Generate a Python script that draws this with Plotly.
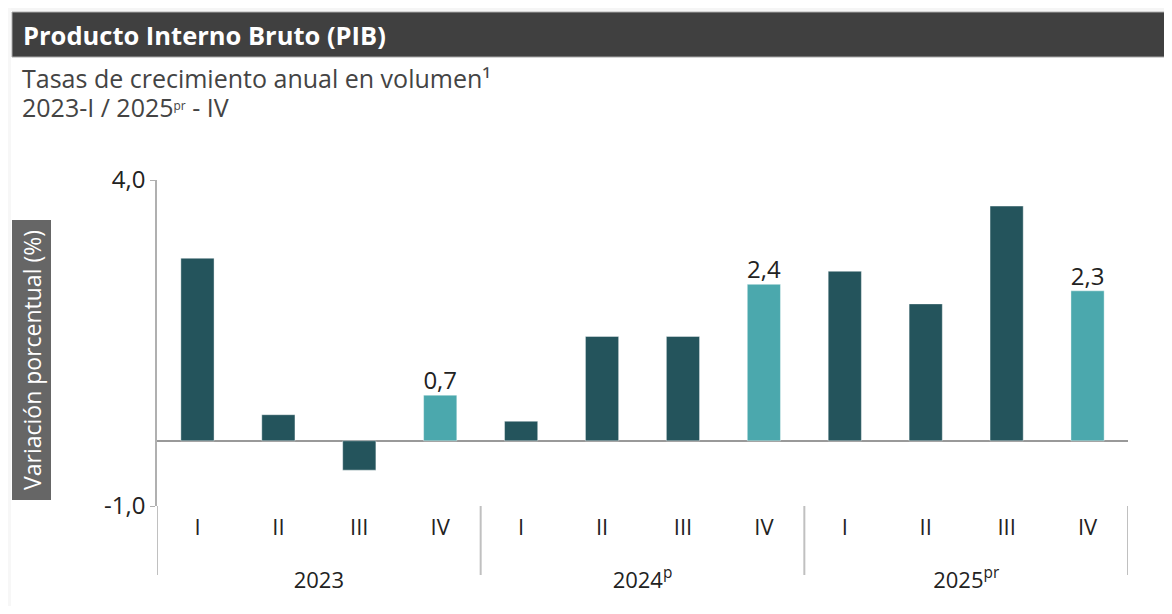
import plotly.graph_objects as go

years = ["2023", "2023", "2023", "2023",
         "2024<sup>p</sup>", "2024<sup>p</sup>", "2024<sup>p</sup>", "2024<sup>p</sup>",
         "2025<sup>pr</sup>", "2025<sup>pr</sup>", "2025<sup>pr</sup>", "2025<sup>pr</sup>"]
quarters = ["I", "II", "III", "IV"] * 3
values = [2.8, 0.4, -0.45, 0.7, 0.3, 1.6, 1.6, 2.4, 2.6, 2.1, 3.6, 2.3]
highlight = [False, False, False, True, False, False, False, True, False, False, False, True]
ytick_vals = [-1, 4]
ytick_text = ["-1,0", "4,0"]

title = "Producto Interno Bruto (PIB)"
subtitle1 = "Tasas de crecimiento anual en volumen¹"
subtitle2 = "2023-I / 2025<span style='font-size:17px'><sup>pr</sup></span> - IV"
ytitle = "Variación porcentual (%)"

DARK = "#24545c"
LIGHT = "#4ba8ad"
FONT = "Open Sans"

# page has an 8px body margin; figure coordinates = reference px - 8
OFF = 8
W, H = 1172 - 2 * OFF, 614 - 2 * OFF
ML, MT = 157 - OFF, 180 - OFF
PW, PH = 1128 - 157, 326
MR = W - ML - PW
MB = H - MT - PH


def px(x):
    return (x - OFF - ML) / PW


def py(y):
    return (MT + PH - (y - OFF)) / PH


# inner labels get a small empty second line so the year row sits lower
inner = [q + "<br><span style='font-size:13px'> </span>" for q in quarters]
n = len(values)

fig = go.Figure()
fig.add_trace(go.Bar(
    x=[years, inner],
    y=values,
    marker=dict(color=[LIGHT if h else DARK for h in highlight],
                line=dict(color="rgba(255,255,255,0.5)", width=0.8)),
    hoverinfo="skip",
))

hx_years = [y for y, h in zip(years, highlight) if h]
hx_q = [q for q, h in zip(inner, highlight) if h]
hx_v = [v for v, h in zip(values, highlight) if h]
fig.add_trace(go.Scatter(
    x=[hx_years, hx_q],
    y=hx_v,
    mode="text",
    text=[f"{v:.1f}".replace(".", ",") for v in hx_v],
    textposition="top center",
    textfont=dict(family=FONT, size=24, color="#222222"),
    cliponaxis=False,
    hoverinfo="skip",
))

# group boundaries (between different years), in category index units
bounds = [-0.5] + [i + 0.5 for i in range(n - 1) if years[i] != years[i + 1]] + [n - 0.5]

shapes = [
    dict(type="rect", xref="paper", yref="paper", x0=px(OFF), x1=px(1180), y0=py(OFF - 1), y1=py(11),
         fillcolor="#f5f5f5", line=dict(width=0), layer="below"),
    dict(type="rect", xref="paper", yref="paper", x0=px(OFF - 1), x1=px(11), y0=py(OFF), y1=py(620),
         fillcolor="#f7f7f7", line=dict(width=0), layer="below"),
    dict(type="rect", xref="paper", yref="paper", x0=px(12), x1=px(1180), y0=py(12), y1=py(57),
         fillcolor="#404040", line=dict(color="#a8a8a8", width=1), layer="above"),
    dict(type="rect", xref="paper", yref="paper", x0=px(12), x1=px(51), y0=py(220), y1=py(500),
         fillcolor="#666666", line=dict(width=0), layer="above"),
]
for b in bounds:
    shapes.append(dict(type="line", xref="x", yref="paper", x0=b, x1=b,
                       y0=py(506), y1=py(575),
                       line=dict(color="#c0c0c0", width=2), layer="above"))

annotations = [
    dict(text="<b>" + title + "</b>", xref="paper", yref="paper", x=px(21), y=py(35),
         xanchor="left", yanchor="middle", showarrow=False,
         font=dict(family=FONT, size=25.5, color="white")),
    dict(text=subtitle1, xref="paper", yref="paper", x=px(20), y=py(78),
         xanchor="left", yanchor="middle", showarrow=False,
         font=dict(family=FONT, size=25, color="#444444")),
    dict(text=subtitle2, xref="paper", yref="paper", x=px(20), y=py(107),
         xanchor="left", yanchor="middle", showarrow=False,
         font=dict(family=FONT, size=25, color="#444444")),
    dict(text=ytitle, xref="paper", yref="paper", x=px(32), y=py(360),
         xanchor="center", yanchor="middle", showarrow=False, textangle=-90,
         font=dict(family=FONT, size=23, color="white")),
]

fig.update_layout(
    width=W, height=H,
    margin=dict(l=ML, r=MR, t=MT, b=MB),
    paper_bgcolor="white", plot_bgcolor="white",
    separators=",.",
    bargap=0.59,
    showlegend=False,
    shapes=shapes,
    annotations=annotations,
    font=dict(family=FONT, size=22, color="#222222"),
)
fig.update_yaxes(
    range=[-1, 4], tickvals=ytick_vals, ticktext=ytick_text,
    showgrid=False, showline=True, linecolor="#b0b0b0", linewidth=1.5,
    ticks="outside", ticklen=5, tickcolor="#b0b0b0",
    zeroline=True, zerolinecolor="#999999", zerolinewidth=1.5,
    tickfont=dict(family=FONT, size=24, color="#222222"),
)
fig.update_xaxes(
    range=[-0.5, n - 0.5], autorange=False,
    showgrid=False, showline=False, ticks="",
    ticklabelstandoff=6,
    showdividers=False,
    tickfont=dict(family=FONT, size=22, color="#222222"),
)

fig.write_html("out.html")
